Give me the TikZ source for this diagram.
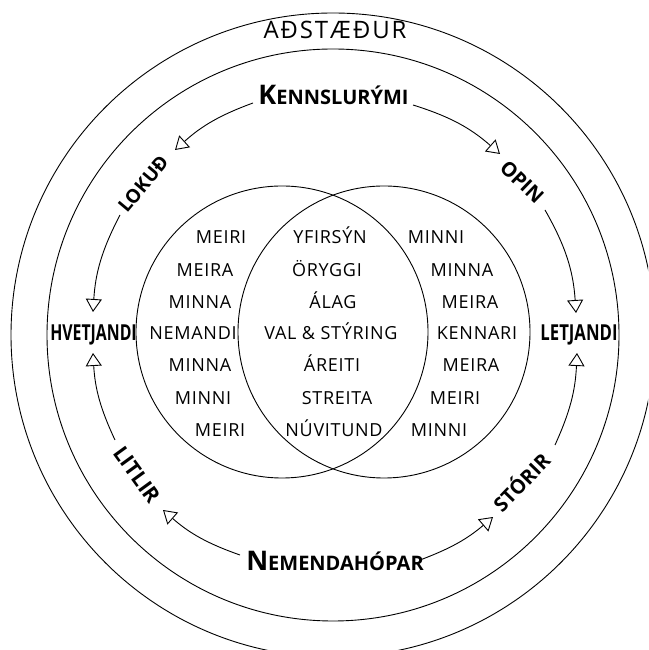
\documentclass[tikz,border=0pt]{standalone}
\usepackage{fontspec}
\setmainfont{Open Sans}
\newfontfamily\spacedfont[LetterSpace=8]{Open Sans}
\newfontfamily\wordfont[LetterSpace=4]{Open Sans}
\usetikzlibrary{arrows.meta}
\newcommand\fsz[2]{{\fontsize{#1}{#1}\selectfont #2}}
\newcommand\bigsmall[4]{\fsz{#1}{#3}\fsz{#2}{#4}}
\begin{document}
\begin{tikzpicture}[x=1pt,y=1pt,
  ring/.style={line width=0.9pt},
  word/.style={inner sep=0pt, anchor=base, font=\wordfont\fontsize{18}{18}\selectfont},
  lab/.style={inner sep=0pt, anchor=base, font=\bfseries},
  plainlab/.style={inner sep=0pt, anchor=base},
  arr/.style={line width=0.9pt, -{Triangle[open,length=13pt,width=16pt,line width=0.9pt]}},
]
\useasboundingbox (0,0) rectangle (648,650);
\clip (0,0) rectangle (648,650);

% rings
\draw[ring] (333,315) circle[radius=322];
\draw[ring] (333,315) circle[radius=286];
% Venn circles
\draw[ring] (282,318) circle[radius=146];
\draw[ring] (384,318) circle[radius=146];

% outer labels
\node[plainlab] (adst) at (335,611) {\spacedfont\fsz{24}{AÐSTÆÐUR}};
\node[lab] (kenn) at (333.5,545) {\bigsmall{27}{20}{K}{ENNSLURÝMI}};
\node[lab] (nem) at (335,79) {\bigsmall{27}{20}{N}{EMENDAHÓPAR}};
\node[lab] (hvet) at (93.5,309) {\scalebox{0.72}[1]{\fsz{22}{HVETJANDI}}};
\node[lab] (letj) at (579,309) {\scalebox{0.76}[1]{\fsz{22}{LETJANDI}}};
\node[lab, rotate=50] (lokud) at (148.4,461.5) {\fsz{19}{LOKUÐ}};
\node[lab, rotate=-44] (opin) at (517,463) {\fsz{20}{OPIN}};
\node[lab, rotate=-54] (litlir) at (131.3,170.9) {\fsz{21}{LITLIR}};
\node[lab, rotate=46] (storir) at (527,162) {\fsz{20}{STÓRIR}};

% arc end points
\coordinate (a1s) at (253,547); \coordinate (a1e) at (175,500);
\coordinate (a2s) at (120,435); \coordinate (a2e) at (93,338);
\coordinate (a3s) at (115,210); \coordinate (a3e) at (93,297);
\coordinate (a4s) at (240,95);  \coordinate (a4e) at (163,140);
\coordinate (a5s) at (420,90);  \coordinate (a5e) at (493,133);
\coordinate (a6s) at (555,205); \coordinate (a6e) at (577,297);
\coordinate (a7s) at (545,440); \coordinate (a7e) at (576,337);
\coordinate (a8s) at (413,545); \coordinate (a8e) at (500,496);

\draw[arr] (a1s) to[bend right=11] (a1e);
\draw[arr] (a2s) to[bend right=12] (a2e);
\draw[arr] (a3s) to[bend left=11] (a3e);
\draw[arr] (a4s) to[bend left=11] (a4e);
\draw[arr] (a5s) to[bend right=10] (a5e);
\draw[arr] (a6s) to[bend right=11] (a6e);
\draw[arr] (a7s) to[bend left=13] (a7e);
\draw[arr] (a8s) to[bend left=12] (a8e);

% left column
\node[word] (l1) at (221,406.5) {MEIRI};
\node[word] (l2) at (205,373.5) {MEIRA};
\node[word] (l3) at (200,341.5) {MINNA};
\node[word] (l4) at (193,310.5) {NEMANDI};
\node[word] (l5) at (200,278.5) {MINNA};
\node[word] (l6) at (203,245.5) {MINNI};
\node[word] (l7) at (220,213.5) {MEIRI};
% centre column
\node[word] (c1) at (330,406.5) {YFIRSÝN};
\node[word] (c2) at (327,373.5) {ÖRYGGI};
\node[word] (c3) at (333,341.5) {ÁLAG};
\node[word] (c4) at (331,310.5) {VAL \& STÝRING};
\node[word] (c5) at (332,278.5) {ÁREITI};
\node[word] (c6) at (337,245.5) {STREITA};
\node[word] (c7) at (334,213.5) {NÚVITUND};
% right column
\node[word] (r1) at (436,406.5) {MINNI};
\node[word] (r2) at (462,373.5) {MINNA};
\node[word] (r3) at (470,341.5) {MEIRA};
\node[word] (r4) at (477,310.5) {KENNARI};
\node[word] (r5) at (471,278.5) {MEIRA};
\node[word] (r6) at (455,245.5) {MEIRI};
\node[word] (r7) at (439,213.5) {MINNI};
\end{tikzpicture}
\end{document}
